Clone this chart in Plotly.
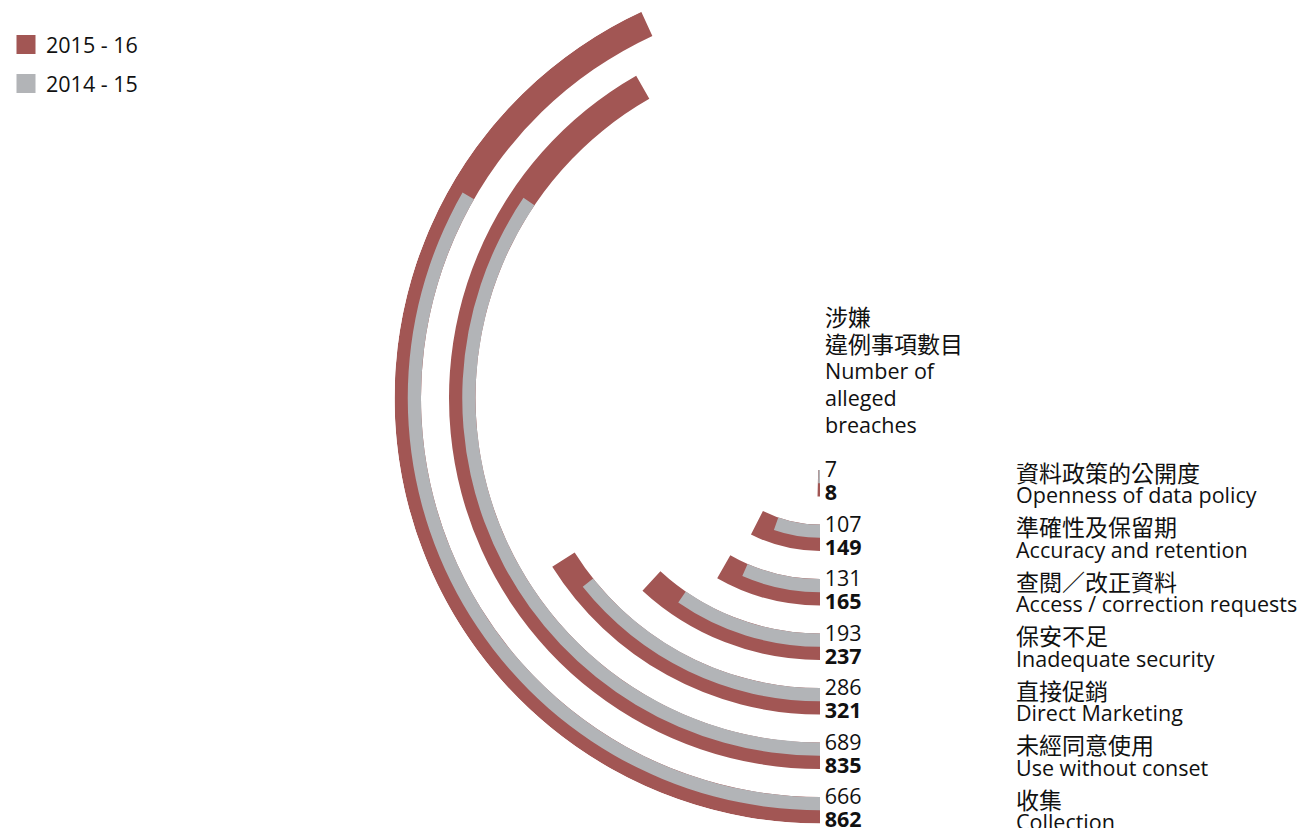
import math
import plotly.graph_objects as go

# Alleged breaches by nature of breach (ring order: inner -> outer)
categories_zh = ["資料政策的公開度", "準確性及保留期", "查閱／改正資料", "保安不足",
                 "直接促銷", "未經同意使用", "收集"]
categories_en = ["Openness of data policy", "Accuracy and retention",
                 "Access / correction requests", "Inadequate security",
                 "Direct Marketing", "Use without conset", "Collection"]
breaches_2014_15 = [7, 107, 131, 193, 286, 689, 666]
breaches_2015_16 = [8, 149, 165, 237, 321, 835, 862]
series_names = ["2015 - 16", "2014 - 15"]

RED = "#a25654"
GREY = "#b2b4b7"
TEXT = "#111111"
FONT_EN = "Open Sans"
FONT_ZH = "Noto Sans CJK TC"
SIZE_EN = 21.5
SIZE_ZH = 23

# ---- geometry (radial units are pixels) ----
W, H = 1307, 828
CX, CY = 820, 398          # pole of the polar subplot, px from top-left
R0 = 72                    # inner radius of the first ring
STEP = 54.5                # distance between rings
BAND = 26.5                # full ring thickness (2015-16 ring)
HALF = BAND / 2            # 2014-15 ring thickness (inner half)
R_MAX = R0 + STEP * (len(categories_en) - 1) + BAND
DEG_PER_CASE = 180 / 1000  # half a turn = 1000 cases
SECTOR_START = 112

inner = [R0 + STEP * i for i in range(len(categories_en))]
mid = [r + HALF for r in inner]

top_px = CY - R_MAX * math.sin(math.radians(SECTOR_START))
bot_px = CY + R_MAX
dom_x = [(CX - R_MAX) / W, CX / W]
dom_y = [(H - bot_px) / H, (H - top_px) / H]

fig = go.Figure()

fig.add_trace(go.Barpolar(
    r=[BAND] * len(inner), base=inner,
    theta=[v * DEG_PER_CASE / 2 for v in breaches_2015_16],
    width=[v * DEG_PER_CASE for v in breaches_2015_16],
    marker=dict(color=RED, line=dict(width=0)),
    name=series_names[0], showlegend=False, hoverinfo="skip",
))
fig.add_trace(go.Barpolar(
    r=[HALF] * len(inner), base=inner,
    theta=[v * DEG_PER_CASE / 2 for v in breaches_2014_15],
    width=[v * DEG_PER_CASE for v in breaches_2014_15],
    marker=dict(color=GREY, line=dict(width=0)),
    name=series_names[1], showlegend=False, hoverinfo="skip",
))

# value labels at the start of each ring
LINE_OFF = 11.5
fig.add_trace(go.Scatterpolar(
    r=[m - LINE_OFF for m in mid], theta=[0] * len(mid),
    mode="markers+text", text=[str(v) for v in breaches_2014_15],
    textposition="middle right",
    textfont=dict(family=FONT_EN, size=SIZE_EN, color=TEXT),
    marker=dict(size=6, opacity=0), cliponaxis=False,
    showlegend=False, hoverinfo="skip",
))
fig.add_trace(go.Scatterpolar(
    r=[m + LINE_OFF for m in mid], theta=[0] * len(mid),
    mode="markers+text", text=[f"<b>{v}</b>" for v in breaches_2015_16],
    textposition="middle right",
    textfont=dict(family=FONT_EN, size=SIZE_EN, color=TEXT),
    marker=dict(size=6, opacity=0), cliponaxis=False,
    showlegend=False, hoverinfo="skip",
))

# legend entries
for name, col in zip(series_names, [RED, GREY]):
    fig.add_trace(go.Scatterpolar(
        r=[None], theta=[None], mode="markers", name=name, legendgroup=name,
        marker=dict(symbol="square", size=16, color=col, line=dict(width=3, color=col)),
        hoverinfo="skip",
    ))

annotations = []
for m, zh, en in zip(mid, categories_zh, categories_en):
    annotations.append(dict(
        x=1014 / W, y=(H - (CY + m - LINE_OFF)) / H, xref="paper", yref="paper",
        xanchor="left", yanchor="middle", showarrow=False, text=zh,
        font=dict(family=FONT_ZH, size=SIZE_ZH, color=TEXT),
    ))
    annotations.append(dict(
        x=1014 / W, y=(H - (CY + m + LINE_OFF)) / H, xref="paper", yref="paper",
        xanchor="left", yanchor="middle", showarrow=False, text=en,
        font=dict(family=FONT_EN, size=SIZE_EN, color=TEXT),
    ))

zh_span = f"<span style='font-family:{FONT_ZH};font-size:{SIZE_ZH}px'>%s</span>"
en_span = f"<span style='font-size:{SIZE_EN}px'>%s</span>"
annotations.append(dict(
    x=823 / W, y=(H - 297) / H, xref="paper", yref="paper",
    xanchor="left", yanchor="top", showarrow=False, align="left",
    text="<br>".join([zh_span % "涉嫌", zh_span % "違例事項數目",
                      en_span % "Number of", en_span % "alleged", en_span % "breaches"]),
    font=dict(family=FONT_EN, size=20.5, color=TEXT),
))

fig.update_layout(
    width=W, height=H,
    margin=dict(l=0, r=0, t=0, b=0),
    paper_bgcolor="white",
    showlegend=True,
    legend=dict(x=6 / W, y=1 - 24 / H, xanchor="left", yanchor="top",
                font=dict(family=FONT_EN, size=SIZE_EN, color=TEXT),
                itemsizing="trace", traceorder="grouped", tracegroupgap=8,
                bgcolor="rgba(0,0,0,0)"),
    polar=dict(
        domain=dict(x=dom_x, y=dom_y),
        sector=[SECTOR_START, 270],
        hole=0,
        bgcolor="rgba(0,0,0,0)",
        barmode="overlay",
        radialaxis=dict(visible=False, range=[0, R_MAX]),
        angularaxis=dict(visible=False, rotation=270, direction="clockwise",
                         thetaunit="degrees"),
    ),
    annotations=annotations,
)

fig.write_html("out.html")
